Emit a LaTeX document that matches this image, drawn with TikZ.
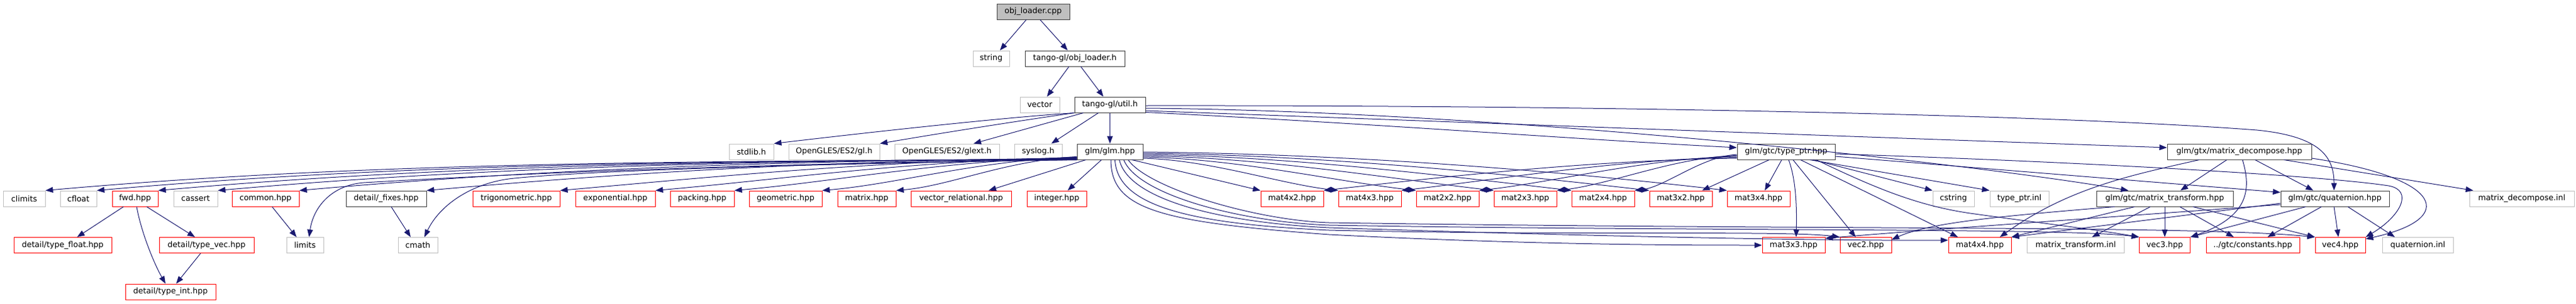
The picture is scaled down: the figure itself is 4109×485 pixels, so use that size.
\documentclass[tikz,border=0pt]{standalone}
\usepackage{fontspec}
\setmainfont{DejaVu Sans}
\usetikzlibrary{arrows.meta}
\definecolor{edgeblue}{HTML}{191970}
\definecolor{docgrey}{HTML}{404040}
\definecolor{extgrey}{HTML}{BFBFBF}
\definecolor{truncred}{HTML}{FF0000}
\begin{document}
\begin{tikzpicture}[x=1pt,y=-1pt,
  nd/.style={rectangle, draw, line width=1pt, minimum height=25pt, inner sep=1pt,
    font=\fontsize{12.6pt}{15pt}\selectfont, fill=white, text=black},
  docnode/.style={nd, draw=docgrey},
  rootnode/.style={nd, draw=docgrey, fill=extgrey},
  extnode/.style={nd, draw=extgrey},
  trunc/.style={nd, draw=truncred},
  dep/.style={draw=edgeblue, line width=1pt, -{Triangle[length=12pt,width=9pt]}}
]
\useasboundingbox (0,0) rectangle (4109,485);
% ---------- nodes ----------
\node[rootnode, minimum width=116pt] (cpp) at (1648,18.5) {obj\_loader.cpp};
\node[extnode, minimum width=58pt] (string) at (1581,93.5) {string};
\node[docnode, minimum width=159pt] (objh) at (1714.5,93.5) {tango-gl/obj\_loader.h};
\node[extnode, minimum width=63pt] (vector) at (1658.5,167.5) {vector};
\node[docnode, minimum width=113pt] (util) at (1770.5,167.5) {tango-gl/util.h};
% row 3
\node[extnode, minimum width=71pt] (stdlib) at (1198.5,242.5) {stdlib.h};
\node[extnode, minimum width=145pt] (gl) at (1330.5,242.5) {OpenGLES/ES2/gl.h};
\node[extnode, minimum width=167pt] (glext) at (1510.5,242.5) {OpenGLES/ES2/glext.h};
\node[extnode, minimum width=76pt] (syslog) at (1656,242.5) {syslog.h};
\node[docnode, minimum width=105pt] (glm) at (1770.5,242.5) {glm/glm.hpp};
\node[docnode, minimum width=156pt] (typeptr) at (2849,242.5) {glm/gtc/type\_ptr.hpp};
\node[docnode, minimum width=230pt] (decomp) at (3572,242.5) {glm/gtx/matrix\_decompose.hpp};
% row 4
\node[extnode, minimum width=67pt] (climits) at (38.5,317.5) {climits};
\node[extnode, minimum width=58pt] (cfloat) at (125,317.5) {cfloat};
\node[trunc, minimum width=73pt] (fwd) at (215.5,317.5) {fwd.hpp};
\node[extnode, minimum width=70pt] (cassert) at (312,317.5) {cassert};
\node[trunc, minimum width=107pt] (common) at (423.5,317.5) {common.hpp};
\node[docnode, minimum width=128pt] (fixes) at (616,317.5) {detail/\_fixes.hpp};
\node[trunc, minimum width=139pt] (trig) at (823.5,317.5) {trigonometric.hpp};
\node[trunc, minimum width=127pt] (expo) at (981.5,317.5) {exponential.hpp};
\node[trunc, minimum width=102pt] (packing) at (1120,317.5) {packing.hpp};
\node[trunc, minimum width=116pt] (geom) at (1253,317.5) {geometric.hpp};
\node[trunc, minimum width=93pt] (matrix) at (1382.5,317.5) {matrix.hpp};
\node[trunc, minimum width=160pt] (vecrel) at (1533,317.5) {vector\_relational.hpp};
\node[trunc, minimum width=95pt] (integer) at (1685.5,317.5) {integer.hpp};
\node[trunc, minimum width=100pt] (m42) at (2061,317.5) {mat4x2.hpp};
\node[trunc, minimum width=100pt] (m43) at (2185,317.5) {mat4x3.hpp};
\node[trunc, minimum width=100pt] (m22) at (2309,317.5) {mat2x2.hpp};
\node[trunc, minimum width=100pt] (m23) at (2433,317.5) {mat2x3.hpp};
\node[trunc, minimum width=100pt] (m24) at (2557,317.5) {mat2x4.hpp};
\node[trunc, minimum width=100pt] (m32) at (2681,317.5) {mat3x2.hpp};
\node[trunc, minimum width=100pt] (m34) at (2805,317.5) {mat3x4.hpp};
\node[extnode, minimum width=66pt] (cstring) at (3116,317.5) {cstring};
\node[extnode, minimum width=94pt] (tpinl) at (3221,317.5) {type\_ptr.inl};
\node[docnode, minimum width=218pt] (mtrans) at (3453,317.5) {glm/gtc/matrix\_transform.hpp};
\node[docnode, minimum width=173pt] (quat) at (3724.5,317.5) {glm/gtc/quaternion.hpp};
\node[extnode, minimum width=167pt] (mdinl) at (4022.5,317.5) {matrix\_decompose.inl};
% row 5
\node[trunc, minimum width=156pt] (tfloat) at (100,392) {detail/type\_float.hpp};
\node[trunc, minimum width=151pt] (tvec) at (329.5,392) {detail/type\_vec.hpp};
\node[extnode, minimum width=59pt] (limits) at (486.5,392) {limits};
\node[extnode, minimum width=63pt] (cmath) at (666.5,392) {cmath};
\node[trunc, minimum width=100pt] (m33) at (2861,392) {mat3x3.hpp};
\node[trunc, minimum width=82pt] (vec2) at (2976,392) {vec2.hpp};
\node[trunc, minimum width=100pt] (m44) at (3158,392) {mat4x4.hpp};
\node[extnode, minimum width=155pt] (mtinl) at (3311,392) {matrix\_transform.inl};
\node[trunc, minimum width=81pt] (vec3) at (3453,392) {vec3.hpp};
\node[trunc, minimum width=149pt] (consts) at (3593.5,392) {../gtc/constants.hpp};
\node[trunc, minimum width=80pt] (vec4) at (3733,392) {vec4.hpp};
\node[extnode, minimum width=113pt] (qinl) at (3856.5,392) {quaternion.inl};
% row 6
\node[trunc, minimum width=144pt] (tint) at (272,466.5) {detail/type\_int.hpp};
% ---------- edges ----------
% top
\draw[dep] ([xshift=-11pt]cpp.south) -- ([xshift=14pt]string.north);
\draw[dep] ([xshift=11pt]cpp.south) -- ([xshift=-11.5pt]objh.north);
\draw[dep] ([xshift=-9.5pt]objh.south) -- ([xshift=11.5pt]vector.north);
\draw[dep] ([xshift=9.5pt]objh.south) -- ([xshift=-10.5pt]util.north);
\draw[dep] (util.south) -- (glm.north);
\draw[dep] ([xshift=-18.5pt]util.south) -- ([xshift=21pt]syslog.north);
\draw[dep] ([xshift=-42.5pt]util.south) -- ([xshift=42.5pt]glext.north);
\draw[dep] (util.south west) .. controls (1620,194) and (1500,213) .. (gl.north east);
\draw[dep] (util.south west) .. controls (1600,188) and (1400,210) .. (stdlib.north east);
% util to the right
\draw[dep] ([yshift=-1.5pt]util.east) .. controls (2600,168) and (3300,185) .. (3600,208) .. controls (3700,218) and (3723,250) .. ([xshift=-1.5pt]quat.north);
\draw[dep] ([yshift=-5.5pt]util.east) .. controls (2400,178) and (3150,262) .. ([xshift=-58pt]mtrans.north);
\draw[dep] ([yshift=-9.5pt]util.east) .. controls (2400,198) and (3000,220) .. ([yshift=6.5pt]decomp.west);
\draw[dep] ([yshift=-12pt]util.east) .. controls (2200,198) and (2500,222) .. ([yshift=6.5pt]typeptr.west);
% glm to the left
\draw[dep] (glm.south west) .. controls (1060,257) and (566,260.6) .. (climits.north east);
\draw[dep] ([yshift=0.5pt]glm.south west) .. controls (1092,257) and (623,262.8) .. (cfloat.north east);
\draw[dep] ([yshift=1pt]glm.south west) .. controls (1132,257) and (692,265.4) .. (fwd.north east);
\draw[dep] ([yshift=1.5pt]glm.south west) .. controls (1170,257) and (758,268) .. (cassert.north east);
\draw[dep] ([yshift=2pt]glm.south west) .. controls (1222,257) and (849,271.5) .. (common.north east);
\draw[dep] ([yshift=2.5pt]glm.south west) .. controls (1303,257) and (991,277) .. (fixes.north east);
\draw[dep] ([yshift=3pt]glm.south west) .. controls (1388,257) and (1140,282.7) .. (trig.north east);
\draw[dep] ([yshift=3.5pt]glm.south west) .. controls (1449,257) and (1247,286.8) .. (expo.north east);
\draw[dep] ([yshift=4pt]glm.south west) .. controls (1499,257) and (1335,290) .. (packing.north east);
\draw[dep] ([yshift=4.5pt]glm.south west) .. controls (1555,257) and (1433,294) .. (geom.north east);
\draw[dep] ([yshift=5pt]glm.south west) .. controls (1602,257) and (1516,297) .. (matrix.north east);
\draw[dep] ([xshift=-38.5pt]glm.south) -- ([xshift=44pt]vecrel.north);
\draw[dep] ([xshift=-13.5pt]glm.south) -- ([xshift=17.5pt]integer.north);
\draw[dep] (glm.south west) .. controls (1100,262) and (700,285) .. (580,292) .. controls (530,296) and (500,330) .. ([xshift=6.5pt]limits.north);
\draw[dep] (glm.south west) .. controls (1300,262) and (950,272) .. (820,285) .. controls (750,292) and (700,330) .. ([xshift=10.5pt]cmath.north);
% glm to the right (row 4)
\draw[dep] ([xshift=35pt]glm.south) -- (m42.north west);
\draw[dep] ([yshift=-10.5pt]glm.east) .. controls (1932,256) and (2041,294) .. (m43.north west);
\draw[dep] ([yshift=-8.5pt]glm.east) .. controls (1976,254) and (2128,289.7) .. (m22.north west);
\draw[dep] ([yshift=-6.5pt]glm.east) .. controls (2019,252) and (2215,285.4) .. (m23.north west);
\draw[dep] ([yshift=-4.5pt]glm.east) .. controls (2062,250) and (2302,281) .. (m24.north west);
\draw[dep] ([yshift=-2.5pt]glm.east) .. controls (2106,248) and (2389,276.7) .. (m32.north west);
\draw[dep] ([yshift=-0.5pt]glm.east) .. controls (2149,246) and (2475,272) .. (m34.north west);
% glm to the right (row 5)
\draw[dep] ([xshift=1.5pt]glm.south) .. controls (1772,335) and (1850,355) .. (2120,375) .. controls (2450,392) and (2700,392) .. (m33.west);
\draw[dep] ([xshift=8pt]glm.south) .. controls (1782,330) and (1900,358) .. (2120,368) .. controls (2500,377) and (2850,368) .. (vec2.north west);
\draw[dep] ([xshift=15pt]glm.south) .. controls (1800,320) and (1950,356) .. (2120,364) .. controls (2600,380) and (2950,385) .. ([yshift=8pt]m44.west);
\draw[dep] ([xshift=22pt]glm.south) .. controls (1815,312) and (1980,355) .. (2120,360) .. controls (2700,370) and (3300,364) .. (vec3.north west);
\draw[dep] ([xshift=29pt]glm.south) .. controls (1830,300) and (2000,352) .. (2120,356) .. controls (2900,368) and (3500,360) .. (vec4.north west);
% type_ptr
\draw[dep] ([yshift=-4.5pt]typeptr.west) .. controls (2714,250) and (2656,299) .. (m24.north east);
\draw[dep] ([yshift=-6pt]typeptr.west) .. controls (2670,251.5) and (2569.4,294.9) .. (m23.north east);
\draw[dep] ([yshift=-7.5pt]typeptr.west) .. controls (2627,253) and (2482.6,290.6) .. (m22.north east);
\draw[dep] ([yshift=-9pt]typeptr.west) .. controls (2583.4,254.5) and (2395.8,286.2) .. (m43.north east);
\draw[dep] ([yshift=-10.5pt]typeptr.west) .. controls (2540,256) and (2309,281.9) .. (m42.north east);
\draw[dep] ([xshift=-27pt]typeptr.south) -- ([xshift=34pt]m32.north);
\draw[dep] ([xshift=-7pt]typeptr.south) -- ([xshift=10pt]m34.north);
\draw[dep] ([xshift=4pt]typeptr.south) .. controls (2866,290) and (2866,340) .. ([xshift=4pt]m33.north);
\draw[dep] ([xshift=11pt]typeptr.south) -- ([xshift=-16pt]vec2.north);
\draw[dep] ([xshift=23pt]typeptr.south) -- ([xshift=-35pt]m44.north);
\draw[dep] ([xshift=38pt]typeptr.south) -- (tpinl.north west);
\draw[dep] ([xshift=43pt]typeptr.south) -- (cstring.north west);
\draw[dep] ([xshift=48pt]typeptr.south) .. controls (2990,300) and (3060,330) .. (3150,342) .. controls (3250,356) and (3350,368) .. (vec3.north west);
\draw[dep] ([yshift=-7.5pt]typeptr.east) -- ([yshift=10pt]quat.west);
\draw[dep] ([yshift=-3.5pt]typeptr.east) .. controls (3300,258) and (3700,280) .. (3810,297) .. controls (3850,304) and (3830,345) .. (vec4.north east);
% matrix_decompose
\draw[dep] ([xshift=-64pt]decomp.south) .. controls (3400,280) and (3300,300) .. ([xshift=32pt]m44.north);
\draw[dep] ([xshift=-20pt]decomp.south) -- ([xshift=25pt]mtrans.north);
\draw[dep] ([xshift=5pt]decomp.south) .. controls (3590,300) and (3590,345) .. (vec3.north east);
\draw[dep] ([xshift=25pt]decomp.south) -- ([xshift=-34.5pt]quat.north);
\draw[dep] ([xshift=71pt]decomp.south) -- ([xshift=-77.5pt]mdinl.north);
\draw[dep] ([yshift=-10.5pt]decomp.east) .. controls (3900,285) and (3920,350) .. ([yshift=10pt]vec4.east);
% matrix_transform
\draw[dep] ([xshift=-80pt]mtrans.south) .. controls (3200,345) and (3080,355) .. ([yshift=9pt]vec2.east);
\draw[dep] ([xshift=-48pt]mtrans.south) -- (m44.north east);
\draw[dep] ([xshift=-23pt]mtrans.south) -- ([xshift=26pt]mtinl.north);
\draw[dep] (mtrans.south) -- (vec3.north);
\draw[dep] ([xshift=24pt]mtrans.south) -- ([xshift=-30.5pt]consts.north);
\draw[dep] ([xshift=45pt]mtrans.south) -- (vec4.north west);
% quaternion
\draw[dep] ([yshift=-9.5pt]quat.west) .. controls (3400,345) and (3100,365) .. ([yshift=11pt]m33.east);
\draw[dep] ([yshift=-7.5pt]quat.west) -- (m44.north east);
\draw[dep] ([xshift=-46.5pt]quat.south) -- (vec3.north east);
\draw[dep] ([xshift=-21.5pt]quat.south) -- ([xshift=23.5pt]consts.north);
\draw[dep] ([xshift=-1.5pt]quat.south) -- ([xshift=-3pt]vec4.north);
\draw[dep] ([xshift=20.5pt]quat.south) -- ([xshift=-36.5pt]qinl.north);
% lower left
\draw[dep] ([xshift=-18.5pt]fwd.south) -- ([xshift=23pt]tfloat.north);
\draw[dep] ([xshift=2.5pt]fwd.south) .. controls (225,370) and (245,420) .. ([xshift=-8pt]tint.north);
\draw[dep] ([xshift=18.5pt]fwd.south) -- ([xshift=-18.5pt]tvec.north);
\draw[dep] ([xshift=-9.5pt]tvec.south) -- ([xshift=9pt]tint.north);
\draw[dep] ([xshift=10.5pt]common.south) -- ([xshift=-13.5pt]limits.north);
\draw[dep] ([xshift=8pt]fixes.south) -- ([xshift=-11.5pt]cmath.north);
\end{tikzpicture}
\end{document}
